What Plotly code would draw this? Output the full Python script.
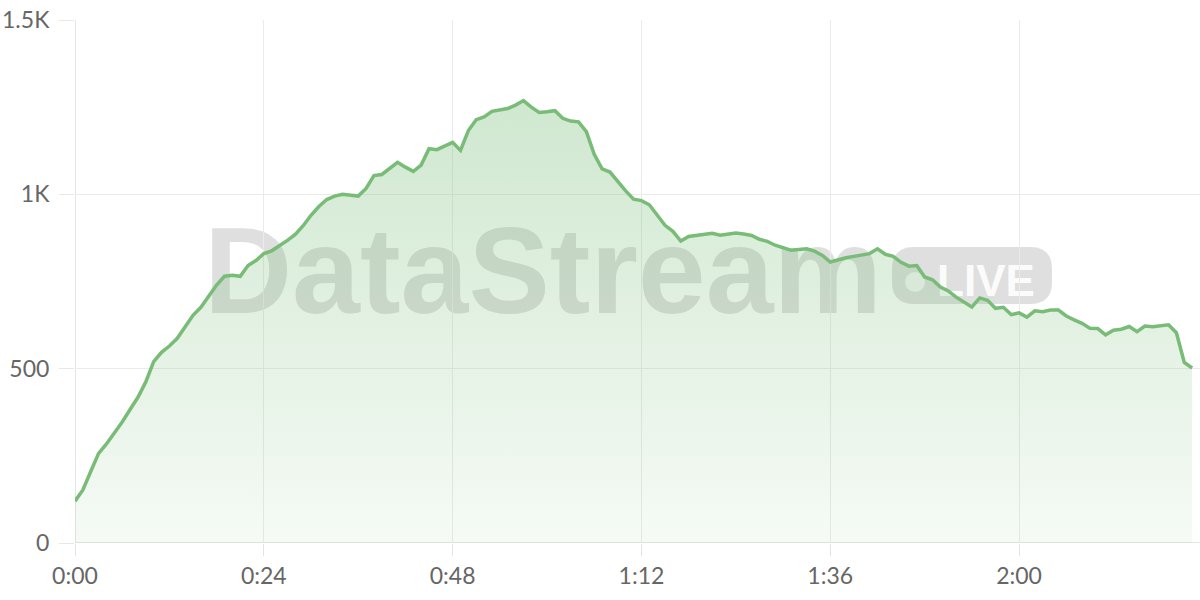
import plotly.graph_objects as go

# ---- data (minutes since start, viewers) ----
minutes = list(range(0, 143))
viewers = [
    120, 152, 205, 257, 284, 315, 347, 383, 418, 462,
    520, 547, 565, 587, 620, 653, 676, 707, 740, 765,
    768, 765, 796, 810, 830, 838, 852, 868, 885, 910,
    940, 965, 985, 995, 1000, 997, 995, 1017, 1054, 1057,
    1073, 1092, 1078, 1066, 1084, 1131, 1128, 1138, 1149, 1126,
    1183, 1214, 1222, 1238, 1243, 1246, 1256, 1269, 1250, 1235,
    1237, 1240, 1218, 1210, 1208, 1180, 1115, 1073, 1064, 1035,
    1010, 986, 982, 970, 940, 911, 894, 866, 879, 882,
    884, 888, 883, 885, 889, 886, 882, 871, 865, 854,
    848, 840, 842, 844, 837, 825, 806, 813, 818, 822,
    826, 830, 844, 828, 822, 805, 794, 796, 763, 755,
    734, 723, 705, 690, 677, 703, 696, 673, 676, 655,
    660, 648, 666, 663, 668, 668, 651, 640, 630, 616,
    615, 597, 610, 613, 621, 606, 622, 620, 622, 626,
    603, 518, 502,
]
x_tickvals = [0, 24, 48, 72, 96, 120]
x_ticktext = ["0:00", "0:24", "0:48", "1:12", "1:36", "2:00"]
y_tickvals = [0, 500, 1000, 1500]
y_ticktext = ["0", "500", "1K", "1.5K"]
watermark_text = "DataStream"
badge_text = "LIVE"

# ---- layout geometry (screen pixels; body margin removed via post_script) ----
W, H = 1200, 600
SL, ST, SR, SB = 75, 20, 1200, 543          # plot area on screen
ML, MT = SL, ST
MR = W - SR
MB = H - SB
PW, PH = SR - SL, SB - ST


def px(xs):
    return (xs - SL) / PW


def py(ys):
    return (SB - ys) / PH


LINE = "rgb(120,188,120)"
WM = "rgba(95,95,95,0.2)"

fig = go.Figure()
fig.add_trace(go.Scatter(
    x=minutes, y=viewers, mode="lines",
    line=dict(color=LINE, width=3.5, shape="linear"),
    fill="tozeroy",
    fillgradient=dict(type="vertical", start=0, stop=1300,
                      colorscale=[[0, "rgba(120,188,120,0.07)"],
                                  [1, "rgba(120,188,120,0.36)"]]),
    hoverinfo="skip", showlegend=False,
))


def P(a, b):
    return f"{px(a):.5f},{py(b):.5f}"


# rounded badge path
bx0, bx1, by0, by1, r = 892, 1052, 247, 304, 22
path = (f"M {P(bx0 + r, by0)} L {P(bx1 - r, by0)} Q {P(bx1, by0)} {P(bx1, by0 + r)} "
        f"L {P(bx1, by1 - r)} Q {P(bx1, by1)} {P(bx1 - r, by1)} "
        f"L {P(bx0 + r, by1)} Q {P(bx0, by1)} {P(bx0, by1 - r)} "
        f"L {P(bx0, by0 + r)} Q {P(bx0, by0)} {P(bx0 + r, by0)} Z")

shapes = [
    dict(type="rect", xref="paper", yref="paper",
         x0=px(190), x1=px(896), y0=py(314), y1=py(204),
         line=dict(width=0), fillcolor="rgba(0,0,0,0)", layer="below",
         label=dict(text=watermark_text, textposition="middle center",
                    font=dict(family="Liberation Sans", size=122, color=WM, weight=700))),
    dict(type="path", xref="paper", yref="paper", path=path,
         line=dict(width=0), fillcolor=WM, layer="below"),
    dict(type="circle", xref="paper", yref="paper",
         x0=px(905), x1=px(925), y0=py(292), y1=py(272),
         line=dict(width=0), fillcolor="rgba(255,255,255,0.75)", layer="below"),
    dict(type="rect", xref="paper", yref="paper",
         x0=px(932), x1=px(1040), y0=py(297), y1=py(255),
         line=dict(width=0), fillcolor="rgba(0,0,0,0)", layer="below",
         label=dict(text=badge_text, textposition="middle center",
                    font=dict(family="Liberation Sans", size=44,
                              color="rgba(255,255,255,0.9)", weight=700))),
]

fig.update_layout(
    width=W, height=H,
    margin=dict(l=ML, r=MR, t=MT, b=MB, pad=0, autoexpand=False),
    paper_bgcolor="white", plot_bgcolor="white",
    shapes=shapes,
    font=dict(family="Lato", size=23, color="#666666"),
    xaxis=dict(range=[0, 143], tickvals=x_tickvals, ticktext=x_ticktext,
               automargin=False, ticklabeloverflow="allow",
               showgrid=True, gridcolor="#ebebeb", gridwidth=1,
               zeroline=False, showline=False,
               ticks="outside", ticklen=12, tickcolor="#e3e3e3", tickwidth=1,
               tickfont=dict(size=23, color="#666666"), fixedrange=True),
    yaxis=dict(range=[0, 1500], tickvals=y_tickvals, ticktext=y_ticktext,
               automargin=False, ticklabeloverflow="allow",
               showgrid=True, gridcolor="#ebebeb", gridwidth=1,
               zeroline=False, showline=False,
               ticks="outside", ticklen=15, tickcolor="#e8e8e8", tickwidth=1,
               ticklabelstandoff=5,
               tickfont=dict(size=23, color="#666666"), fixedrange=True),
)
# darker axis-ish lines at 0
fig.add_shape(type="line", xref="x", yref="paper", x0=0, x1=0, y0=0, y1=1,
              line=dict(color="#dcdcdc", width=1.5), layer="below")
fig.add_shape(type="line", xref="paper", yref="y", x0=0, x1=1, y0=0, y1=0,
              line=dict(color="#dcdcdc", width=1.5), layer="below")

fig.write_html("out.html",
               config={"displayModeBar": False, "staticPlot": True},
               post_script="document.body.style.margin='0';document.body.style.overflow='hidden';")
